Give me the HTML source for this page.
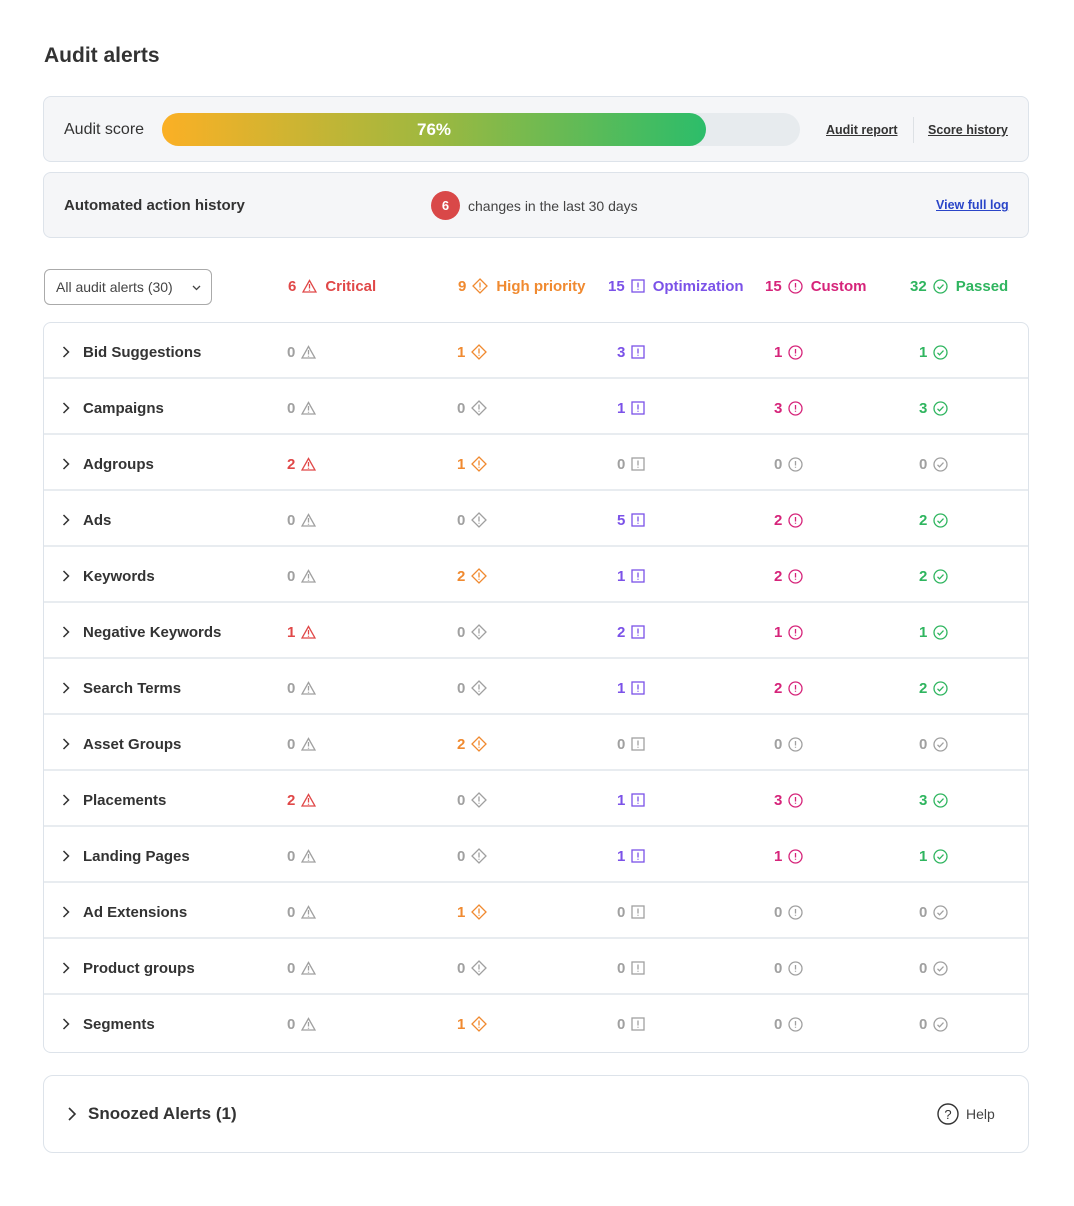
<!DOCTYPE html>
<html><head><meta charset="utf-8">
<style>
*{box-sizing:border-box;margin:0;padding:0}
body{width:1074px;height:1206px;background:#fff;font-family:"Liberation Sans",sans-serif;color:#333;position:relative;overflow:hidden}
.abs{position:absolute}
.card{position:absolute;left:43px;width:986px;border:1px solid #dde3ea;border-radius:8px;background:#f5f6f8}
.lnk{position:absolute;font-size:12.5px;font-weight:bold;color:#333;text-decoration:underline}
.hdr{position:absolute;top:277px;font-size:15px;font-weight:bold;display:flex;align-items:center;gap:6px;height:18px}
.row{position:absolute;left:0;width:984px;height:56px;border-bottom:2px solid #e8ecf0}
.cell{position:absolute;top:20px;font-size:15px;font-weight:bold;display:flex;align-items:center;gap:6px;height:18px}
.name{position:absolute;left:39px;top:21px;font-size:15px;font-weight:bold;color:#333}
.chev{position:absolute;left:18px;top:23px}
</style></head><body>
<div class="abs" style="left:44px;top:44px;font-size:21px;font-weight:bold;color:#333">Audit alerts</div>

<div class="card" style="top:96px;height:66px">
  <div class="abs" style="left:20px;top:24px;font-size:16px;color:#333">Audit score</div>
  <div class="abs" style="left:118px;top:16px;width:638px;height:33px;border-radius:17px;background:#e7ebee"></div>
  <div class="abs" style="left:118px;top:16px;width:544px;height:33px;border-radius:17px;background:linear-gradient(90deg,#fbb025,#9db840 50%,#2cbd6a);color:#fff;font-weight:bold;font-size:17px;text-align:center;line-height:33px">76%</div>
  <a class="lnk" style="left:782px;top:26px">Audit report</a>
  <div class="abs" style="left:869px;top:20px;width:1px;height:26px;background:#dde1e5"></div>
  <a class="lnk" style="left:884px;top:26px">Score history</a>
</div>

<div class="card" style="top:172px;height:66px">
  <div class="abs" style="left:20px;top:24px;font-size:15px;font-weight:bold;color:#333">Automated action history</div>
  <div class="abs" style="left:387px;top:18px;width:29px;height:29px;border-radius:50%;background:#d94848;color:#fff;font-size:13px;font-weight:bold;text-align:center;line-height:29px">6</div>
  <div class="abs" style="left:424px;top:25px;font-size:14px;color:#444">changes in the last 30 days</div>
  <a class="lnk" style="left:892px;top:25px;color:#2a45c8">View full log</a>
</div>

<div class="abs" style="left:44px;top:269px;width:168px;height:36px;border:1px solid #aaa;border-radius:6px;font-size:14px;color:#444;padding:9px 11px">All audit alerts (30)<svg style="position:absolute;right:10px;top:15px" width="9" height="6"><path d="M1 1l3.5 3.5L8 1" fill="none" stroke="#444" stroke-width="1.3"/></svg></div>

<div id="hdrs"></div>

<div class="abs" id="tbl" style="left:43px;top:322px;width:986px;height:731px;border:1px solid #dde3ea;border-radius:8px;overflow:hidden;background:#fff"></div>

<div class="abs" style="left:43px;top:1075px;width:986px;height:78px;border:1px solid #dde3ea;border-radius:10px;background:#fff">
  <svg class="abs" style="left:23px;top:31px" width="10" height="14"><path d="M2 1l6 6-6 6" fill="none" stroke="#333" stroke-width="1.6"/></svg>
  <div class="abs" style="left:44px;top:28px;font-size:17px;font-weight:bold;color:#333">Snoozed Alerts (1)</div>
  <div class="abs" style="left:893px;top:27px;display:flex;align-items:center;gap:7px;font-size:14px;color:#444"><svg width="22" height="22"><circle cx="11" cy="11" r="10" fill="none" stroke="#333" stroke-width="1.4"/><text x="11" y="16" text-anchor="middle" font-size="13" font-family="Liberation Sans" fill="#333">?</text></svg>Help</div>
</div>

<script>
const categories=["Bid Suggestions","Campaigns","Adgroups","Ads","Keywords","Negative Keywords","Search Terms","Asset Groups","Placements","Landing Pages","Ad Extensions","Product groups","Segments"];
const critical=[0,0,2,0,0,1,0,0,2,0,0,0,0];
const highPriority=[1,0,1,0,2,0,0,2,0,0,1,0,1];
const optimization=[3,1,0,5,1,2,1,0,1,1,0,0,0];
const custom=[1,3,0,2,2,1,2,0,3,1,0,0,0];
const passed=[1,3,0,2,2,1,2,0,3,1,0,0,0];
const totals=[6,9,15,15,32];
const labels=["Critical","High priority","Optimization","Custom","Passed"];
const colors=["#e04848","#f08a30","#7b52e8","#d6247a","#2fb55f"];
const gray="#a0a0a0";
const colX=[243,413,573,730,875];
const hdrX=[288,458,608,765,910];
const keys=["critical","high-priority","optimization","custom","passed"];
function icon(k,c){
  if(k===0)return `<svg width="15" height="14"><path d="M7.5 1.5L14 13H1z" fill="none" stroke="${c}" stroke-width="1.3"/><path d="M7.5 5v4.5M7.5 10.8v1" stroke="${c}" stroke-width="1.3"/></svg>`;
  if(k===1)return `<svg width="16" height="16"><path d="M8 1l7 7-7 7-7-7z" fill="none" stroke="${c}" stroke-width="1.3"/><path d="M8 4.5v5M8 10.8v1" stroke="${c}" stroke-width="1.3"/></svg>`;
  if(k===2)return `<svg width="14" height="14"><rect x="1" y="1" width="12" height="12" fill="none" stroke="${c}" stroke-width="1.3"/><path d="M7 3.5v5M7 9.8v1" stroke="${c}" stroke-width="1.3"/></svg>`;
  if(k===3)return `<svg width="15" height="15"><circle cx="7.5" cy="7.5" r="6.5" fill="none" stroke="${c}" stroke-width="1.3"/><path d="M7.5 4v4.5M7.5 9.8v1" stroke="${c}" stroke-width="1.3"/></svg>`;
  return `<svg width="15" height="15"><circle cx="7.5" cy="7.5" r="6.5" fill="none" stroke="${c}" stroke-width="1.3"/><path d="M4.5 7.8l2 2 4-4.2" fill="none" stroke="${c}" stroke-width="1.3"/></svg>`;
}
const hd=document.getElementById('hdrs');
totals.forEach((t,i)=>{
  const d=document.createElement('div');d.className='hdr';
  
  
  d.style.left=hdrX[i]+'px';d.style.color=colors[i];
  d.innerHTML=`<span>${t}</span>${icon(i,colors[i])}<span style="margin-left:2px">${labels[i]}</span>`;
  hd.appendChild(d);
});
const series=[critical,highPriority,optimization,custom,passed];
const tb=document.getElementById('tbl');
categories.forEach((name,r)=>{
  const row=document.createElement('div');row.className='row';
  
  
  row.style.top=(r*56)+'px';
  if(r===categories.length-1)row.style.borderBottom='none';
  row.innerHTML=`<svg class="chev" width="8" height="12"><path d="M1.5 1l5 5-5 5" fill="none" stroke="#333" stroke-width="1.5"/></svg><div class="name">${name}</div>`;
  series.forEach((s,i)=>{
    const v=s[r];const c=v>0?colors[i]:gray;
    const cell=document.createElement('div');cell.className='cell';
    
    
    cell.style.left=colX[i]+'px';cell.style.color=c;
    cell.innerHTML=`<span>${v}</span>${icon(i,c)}`;
    row.appendChild(cell);
  });
  tb.appendChild(row);
});
</script>
</body></html>
